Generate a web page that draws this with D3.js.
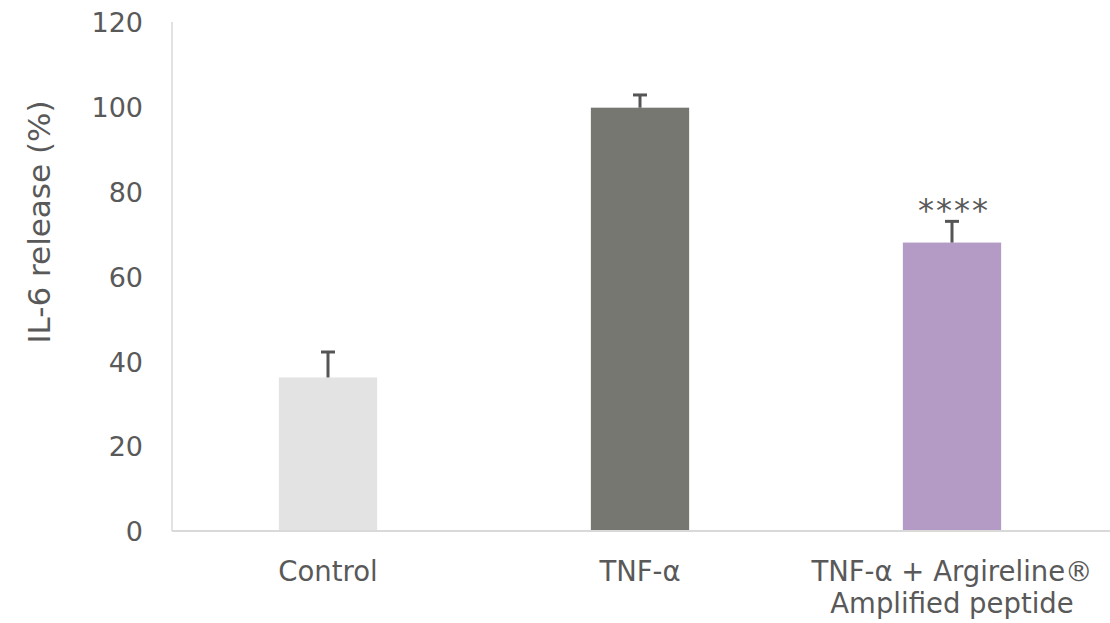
<!DOCTYPE html>
<html><head><meta charset="utf-8">
<script src="https://cdn.jsdelivr.net/npm/d3@7"></script>
<style>body{margin:0;background:#fff}</style>
</head><body>
<svg id="c" width="1110" height="623"></svg>
<script>
const categories = [["Control"], ["TNF-α"], ["TNF-α + Argireline®", "Amplified peptide"]];
const values = [36.2, 99.8, 68.0];
const errors = [6.0, 3.0, 5.0];
const significance = ["", "", "****"];
const yTicks = [0, 20, 40, 60, 80, 100, 120];
const colors = ["#e3e3e3", "#767771", "#b39bc6"];

const svg = d3.select("#c");
const m = {l: 172, r: 1108, t: 22, b: 531};
const x = d3.scaleBand().domain(d3.range(categories.length)).range([m.l, m.r]).paddingInner(0.685).paddingOuter(0.3425);
const y = d3.scaleLinear().domain([0, 120]).range([m.b, m.t]);

svg.append("line").attr("x1", m.l).attr("x2", m.l).attr("y1", m.t).attr("y2", m.b).attr("stroke", "#d9d9d9").attr("stroke-width", 1.5);

const ya = d3.axisLeft(y).tickValues(yTicks).tickSize(0).tickPadding(0);
const yg = svg.append("g").attr("transform", `translate(${m.l - 29},0)`).call(ya);
yg.select(".domain").remove();
yg.selectAll("text").attr("font-family", "DejaVu Sans").attr("font-size", 27).attr("fill", "#595959").attr("dy", "0.36em");

svg.append("text").attr("transform", `translate(50,222) rotate(-90)`).attr("text-anchor", "middle")
  .attr("font-family", "DejaVu Sans").attr("font-size", 31).attr("fill", "#595959").text("IL-6 release (%)");

svg.selectAll("rect.bar").data(values).join("rect").attr("class", "bar")
  .attr("x", (d, i) => x(i)).attr("width", x.bandwidth())
  .attr("y", d => y(d)).attr("height", d => y(0) - y(d)).attr("fill", (d, i) => colors[i]);

const eg = svg.append("g").attr("stroke", "#555").attr("stroke-width", 3);
values.forEach((v, i) => {
  const cx = x(i) + x.bandwidth() / 2;
  eg.append("line").attr("x1", cx).attr("x2", cx).attr("y1", y(v)).attr("y2", y(v + errors[i]));
  eg.append("line").attr("x1", cx - 7).attr("x2", cx + 7).attr("y1", y(v + errors[i])).attr("y2", y(v + errors[i]));
  if (significance[i]) {
    svg.append("text").attr("x", cx + 2).attr("y", y(v + errors[i])).attr("text-anchor", "middle")
      .attr("font-family", "DejaVu Sans").attr("font-size", 32).attr("letter-spacing", 2).attr("fill", "#595959").text(significance[i]);
  }
});

svg.append("line").attr("x1", m.l).attr("x2", 1110).attr("y1", m.b).attr("y2", m.b).attr("stroke", "#d9d9d9").attr("stroke-width", 2);

categories.forEach((lines, i) => {
  const cx = x(i) + x.bandwidth() / 2;
  const t = svg.append("text").attr("text-anchor", "middle").attr("font-family", "DejaVu Sans")
    .attr("font-size", 27.5).attr("fill", "#595959");
  lines.forEach((s, j) => t.append("tspan").attr("x", cx).attr("y", 581 + j * 32).text(s));
});
</script>
</body></html>
